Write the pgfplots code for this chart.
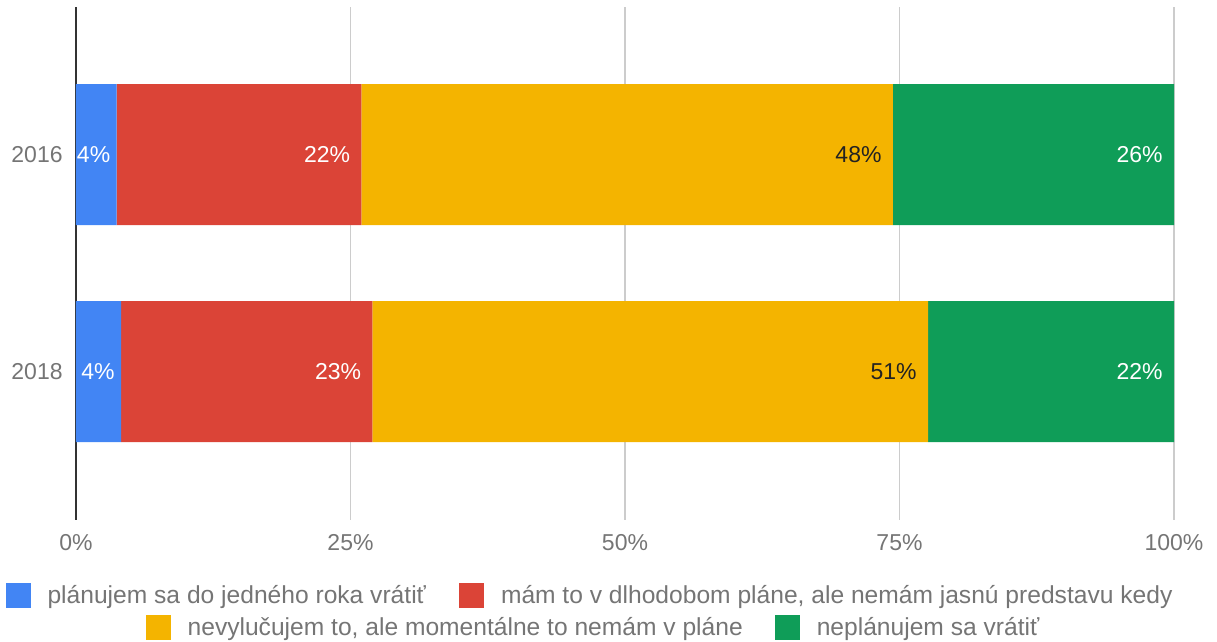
\documentclass[border=0pt]{standalone}
\usepackage{pgfplots}
\pgfplotsset{compat=1.18}
\usepackage{fontspec}
\setmainfont{Liberation Sans}
\definecolor{gblue}{HTML}{4285F4}
\definecolor{gred}{HTML}{DB4437}
\definecolor{gyellow}{HTML}{F4B400}
\definecolor{ggreen}{HTML}{0F9D58}
\definecolor{tickgray}{HTML}{757575}
\definecolor{gridgray}{HTML}{CCCCCC}
\definecolor{legtext}{HTML}{222222}
\begin{document}
\begin{tikzpicture}
\useasboundingbox (-38pt,-61pt) rectangle (570.5pt,260pt);
\begin{axis}[
  at={(0,0)}, anchor=south west,
  scale only axis, width=549pt, height=256.5pt,
  xbar stacked, bar width=70.5pt,
  xmin=0, xmax=100, ymin=-0.684, ymax=1.68,
  xtick={0,25,50,75,100},
  xticklabels={0\%,25\%,50\%,75\%,100\%},
  ytick={0,1}, yticklabels={2018,2016},
  xmajorgrids, major grid style={gridgray, line width=0.6pt},
  major tick length=0pt,
  axis x line*=bottom, axis y line*=left,
  x axis line style={draw=none},
  y axis line style={draw=black!80, line width=1pt, -},
  tick label style={font=\fontsize{11.5}{13}\selectfont, text=tickgray},
  xticklabel style={anchor=north, inner sep=0pt, yshift=-7pt},
  yticklabel style={anchor=east, inner sep=0pt, xshift=-6.5pt},
  point meta=explicit symbolic,
  visualization depends on={rawx \as \rawxval},
  nodes near coords={\pgfplotspointmeta\%},
  every node near coord/.append style={anchor=east, inner sep=0pt, xshift={\rawxval*2.745pt-5.5pt}, font=\fontsize{11.5}{13}\selectfont, text=white},
]
\addplot[fill=gblue, draw=none, every node near coord/.append style={xshift=2.5pt}] coordinates {(3.7,1) [4] (4.1,0) [4]};
\addplot[fill=gred, draw=none] coordinates {(22.3,1) [22] (22.9,0) [23]};
\addplot[fill=gyellow, draw=none, every node near coord/.append style={text=legtext}] coordinates {(48.4,1) [48] (50.6,0) [51]};
\addplot[fill=ggreen, draw=none] coordinates {(25.6,1) [26] (22.4,0) [22]};
\end{axis}
\newcommand{\sq}[1]{\raisebox{-2.2pt}{\textcolor{#1}{\rule{12.5pt}{12.5pt}}}}
\node[font=\fontsize{12.3}{14}\selectfont, text=tickgray, inner sep=0pt] at (256.5pt,-38pt)
  {\sq{gblue}\hspace{8.5pt}plánujem sa do jedného roka vrátiť\hspace{16.5pt}\sq{gred}\hspace{8.5pt}mám to v dlhodobom pláne, ale nemám jasnú predstavu kedy};
\node[font=\fontsize{12.3}{14}\selectfont, text=tickgray, inner sep=0pt] at (258.25pt,-54pt)
  {\sq{gyellow}\hspace{8.5pt}nevylučujem to, ale momentálne to nemám v pláne\hspace{16pt}\sq{ggreen}\hspace{8.5pt}neplánujem sa vrátiť};
\end{tikzpicture}
\end{document}
